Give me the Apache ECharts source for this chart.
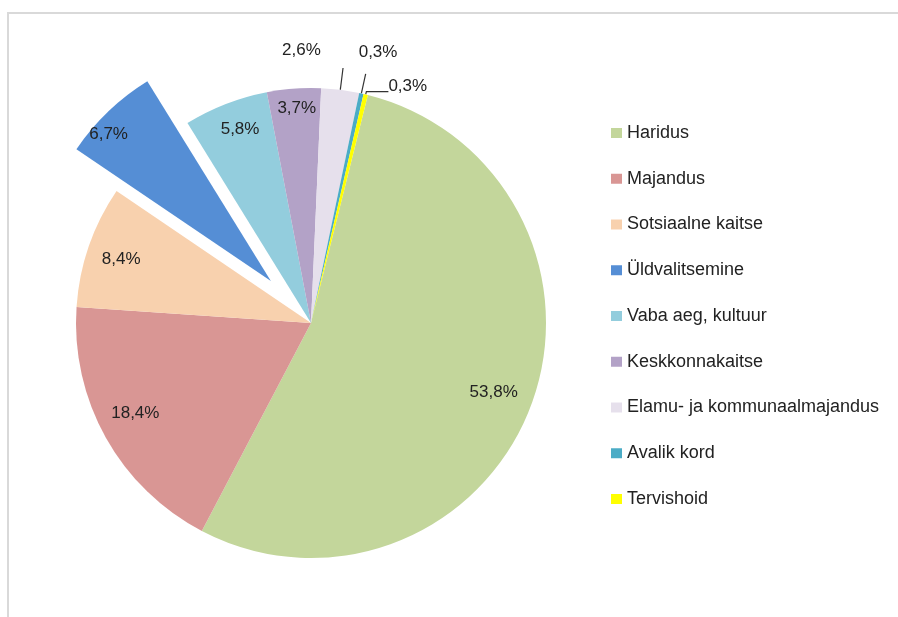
<!DOCTYPE html>
<html>
<head>
<meta charset="utf-8">
<script src="https://cdn.jsdelivr.net/npm/echarts@6/dist/echarts.min.js"></script>
<style>
  html, body { margin: 0; padding: 0; background: #fff; }
  #main { width: 898px; height: 617px; }
</style>
</head>
<body>
<div id="main"></div>
<script>
// valdkonnad ja osakaalud (%)
const categories = [
  'Haridus',
  'Majandus',
  'Sotsiaalne kaitse',
  'Üldvalitsemine',
  'Vaba aeg, kultuur',
  'Keskkonnakaitse',
  'Elamu- ja kommunaalmajandus',
  'Avalik kord',
  'Tervishoid'
];
const shares = [53.8, 18.4, 8.4, 6.7, 5.8, 3.7, 2.6, 0.3, 0.3];
const colors = ['#C3D69B', '#D99694', '#F8D1AE', '#558ED5', '#93CDDD', '#B3A2C7', '#E6E0EC', '#4BACC6', '#FFFF00'];
const exploded = 'Üldvalitsemine';
const smallOnes = ['Elamu- ja kommunaalmajandus', 'Avalik kord', 'Tervishoid'];

const fmt = v => v.toFixed(1).replace('.', ',') + '%';

const CENTER = [311, 323];
const R = 235;
const OFFSET = 58;
const FONT = 'Liberation Sans';

// leader lines of the tiny slices: [radial length, horizontal length, label shift]
const guides = {
  'Elamu- ja kommunaalmajandus': [22, 0, -66, -18],
  'Avalik kord': [20, 0, -12, -22],
  'Tervishoid': [3, 22, -5, -5]
};
// nudges for labels near the rim
const nudges = { 3: [-27, -6], 4: [0, -12], 5: [0, -20], 1: [-5, -5], 2: [-5, 0] };

const sliceData = categories.map((name, i) => {
  const item = { name: name, value: shares[i], itemStyle: { color: colors[i] } };
  if (name === exploded) item.selected = true;
  if (guides[name]) {
    item.label = { show: true, position: 'outside' };
    item.labelLine = { show: true, length: guides[name][0], length2: guides[name][1] };
  }
  return item;
});

// transparent ring on top, only there to put the big labels near the rim
const labelData = categories.map((name, i) => {
  const item = {
    name: name, value: shares[i],
    itemStyle: { color: 'rgba(0,0,0,0)' },
    label: { show: !guides[name] }
  };
  if (name === exploded) item.selected = true;
  return item;
});

const chart = echarts.init(document.getElementById('main'));
chart.setOption({
  animation: false,
  color: colors,
  graphic: [{
    type: 'rect',
    shape: { x: 8, y: 13, width: 920, height: 640 },
    style: { fill: 'none', stroke: '#d9d9d9', lineWidth: 2 },
    silent: true
  }],
  legend: {
    orient: 'vertical',
    left: 606,
    top: 118,
    itemWidth: 11,
    itemHeight: 10,
    itemGap: 25.75,
    icon: 'rect',
    data: categories,
    textStyle: { fontFamily: FONT, fontSize: 18, color: '#222', lineHeight: 20 }
  },
  series: [
    {
      name: 'slices',
      type: 'pie',
      center: CENTER,
      radius: R,
      startAngle: 76,
      clockwise: true,
      selectedMode: 'single',
      selectedOffset: OFFSET,
      avoidLabelOverlap: false,
      data: sliceData,
      label: {
        show: false,
        formatter: p => fmt(p.value),
        fontFamily: FONT,
        fontSize: 17,
        color: '#222'
      },
      labelLine: {
        lineStyle: { color: '#333', width: 1.2 }
      },
      labelLayout: function (p) {
        const g = guides[categories[p.dataIndex]];
        return g ? { dx: g[2], dy: g[3] } : {};
      },
      itemStyle: { borderWidth: 0 },
      emphasis: { disabled: true }
    },
    {
      name: 'labels',
      type: 'pie',
      center: CENTER,
      radius: [150, R],
      startAngle: 76,
      clockwise: true,
      selectedMode: 'single',
      selectedOffset: OFFSET,
      silent: true,
      data: labelData,
      label: {
        position: 'inside',
        formatter: p => fmt(p.value),
        fontFamily: FONT,
        fontSize: 17,
        color: '#222'
      },
      labelLine: { show: false },
      labelLayout: function (p) {
        const n = nudges[p.dataIndex];
        return n ? { dx: n[0], dy: n[1] } : {};
      },
      emphasis: { disabled: true }
    }
  ]
});
</script>
</body>
</html>
